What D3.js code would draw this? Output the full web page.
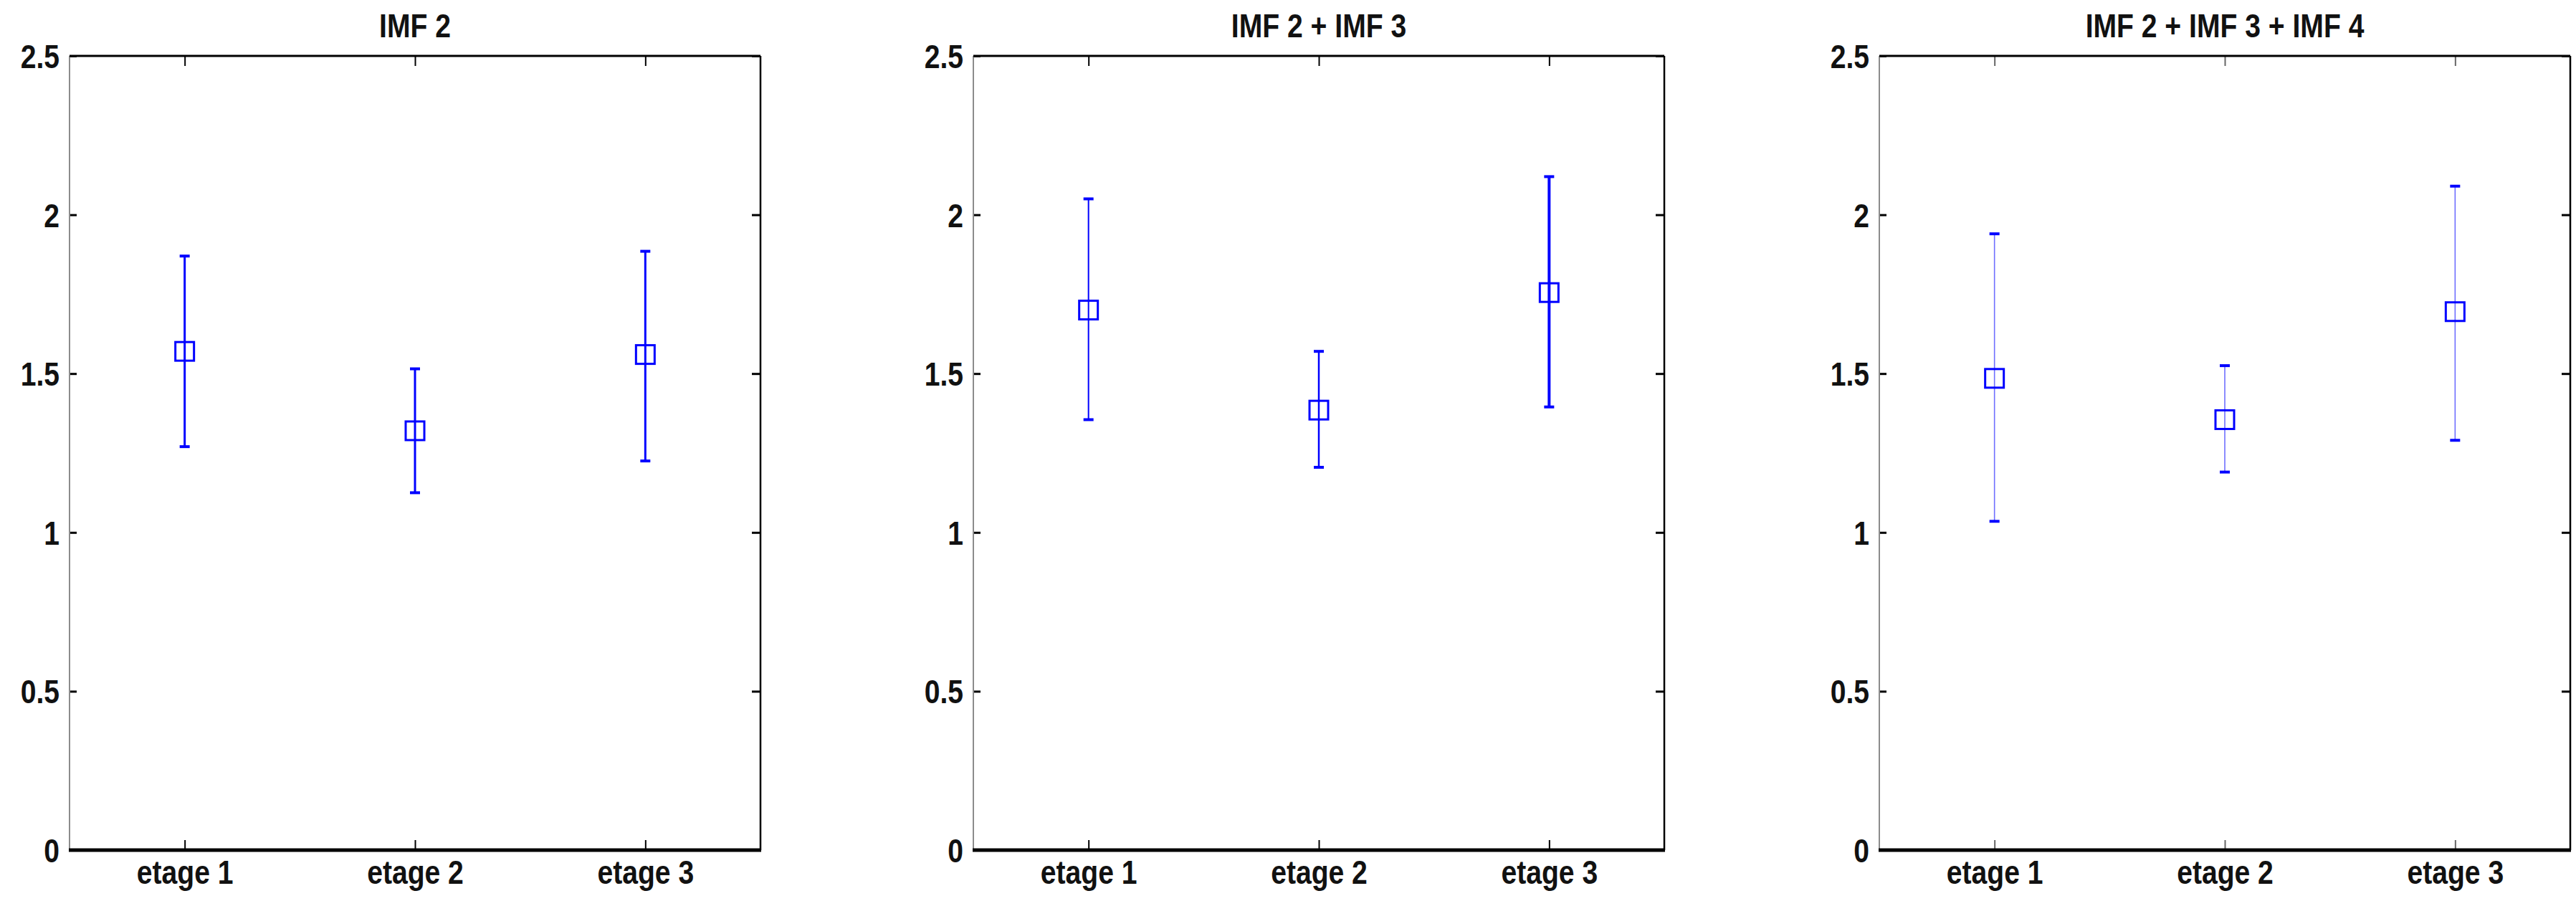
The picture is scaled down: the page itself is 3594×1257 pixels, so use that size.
<!DOCTYPE html>
<html>
<head>
<meta charset="utf-8">
<script src="https://cdn.jsdelivr.net/npm/d3@7"></script>
<style>
  html, body { margin: 0; padding: 0; background: #fff; }
  text { font-family: "Liberation Sans", Arial, sans-serif; font-weight: bold; fill: #111; }
</style>
</head>
<body>
<svg id="chart" width="3594" height="1257"></svg>
<script>
// data
var categories = ["etage 1", "etage 2", "etage 3"];
var titles = ["IMF 2", "IMF 2 + IMF 3", "IMF 2 + IMF 3 + IMF 4"];
var yTicks = [0, 0.5, 1, 1.5, 2, 2.5];

var imf2Mean  = [1.57, 1.32, 1.56];
var imf2Upper = [1.87, 1.515, 1.885];
var imf2Lower = [1.27, 1.125, 1.225];

var imf23Mean  = [1.70, 1.385, 1.755];
var imf23Upper = [2.05, 1.57, 2.12];
var imf23Lower = [1.355, 1.205, 1.395];

var imf234Mean  = [1.485, 1.355, 1.695];
var imf234Upper = [1.94, 1.525, 2.09];
var imf234Lower = [1.035, 1.19, 1.29];

var panels = [
    {title: titles[0], mean: imf2Mean, upper: imf2Upper, lower: imf2Lower},
    {title: titles[1], mean: imf23Mean, upper: imf23Upper, lower: imf23Lower},
    {title: titles[2], mean: imf234Mean, upper: imf234Upper, lower: imf234Lower}
];

// look of each panel's bars
var lineWidths = [[3, 3, 3], [2, 2.5, 4], [1.6, 1.6, 1.6]];
var lineColors = ["#0000ff", "#0000ff", "#6f6fff"];

var panelLeft = [97, 1358, 2622],
    plotTop = 78, plotBottom = 1186,
    plotW = 964,
    plotH = plotBottom - plotTop,
    squeeze = 0.85,
    fontSize = 46;

var svg = d3.select("#chart");

var x = d3.scalePoint()
    .domain(categories)
    .range([0, plotW])
    .padding(0.5);

var y = d3.scaleLinear()
    .domain([0, 2.5])
    .range([plotH, 0]);

panels.forEach(function (p, pi) {
    var g = svg.append("g")
        .attr("transform", "translate(" + panelLeft[pi] + "," + plotTop + ")");

    // title
    g.append("text")
        .attr("transform", "translate(" + (plotW / 2) + ",-26) scale(" + squeeze + ",1)")
        .attr("text-anchor", "middle")
        .style("font-size", fontSize + "px")
        .text(p.title);

    // left axis with labels
    var yAxis = g.append("g")
        .call(d3.axisLeft(y).tickValues(yTicks).tickSizeInner(-10).tickSizeOuter(0).tickPadding(0)
            .tickFormat(d3.format("")));
    yAxis.select(".domain").remove();
    yAxis.selectAll(".tick line").attr("stroke", "#000").attr("stroke-width", 3);
    yAxis.selectAll(".tick text")
        .attr("x", null)
        .attr("dy", "0.36em")
        .attr("transform", "translate(-14,0) scale(" + squeeze + ",1)")
        .style("font-size", fontSize + "px")
        .attr("fill", "#111");

    // right axis, ticks only
    var yRight = g.append("g")
        .attr("transform", "translate(" + plotW + ",0)")
        .call(d3.axisRight(y).tickValues(yTicks).tickSizeInner(-12).tickSizeOuter(0).tickFormat(""));
    yRight.select(".domain").remove();
    yRight.selectAll(".tick line").attr("stroke", "#000").attr("stroke-width", 3);

    // top axis, ticks only
    var xTop = g.append("g")
        .call(d3.axisTop(x).tickSizeInner(-14).tickSizeOuter(0).tickFormat(""));
    xTop.select(".domain").remove();
    xTop.selectAll(".tick line").attr("stroke", pi == 2 ? "#666" : "#000").attr("stroke-width", 2);

    // bottom axis with category labels
    var xAxis = g.append("g")
        .attr("transform", "translate(0," + plotH + ")")
        .call(d3.axisBottom(x).tickSizeInner(-14).tickSizeOuter(0).tickPadding(0));
    xAxis.select(".domain").remove();
    xAxis.selectAll(".tick line").attr("stroke", pi == 2 ? "#666" : "#000").attr("stroke-width", 2);
    xAxis.selectAll(".tick text")
        .attr("y", null)
        .attr("dy", null)
        .attr("transform", "translate(0,47) scale(" + squeeze + ",1)")
        .style("font-size", fontSize + "px")
        .attr("fill", "#111");

    // box around the plot
    g.append("line").attr("x1", 0).attr("x2", 0).attr("y1", 0).attr("y2", plotH)
        .attr("stroke", "#8c8c8c").attr("stroke-width", 2);
    g.append("line").attr("x1", 0).attr("x2", plotW).attr("y1", 0).attr("y2", 0)
        .attr("stroke", "#000").attr("stroke-width", 3);
    g.append("line").attr("x1", plotW).attr("x2", plotW).attr("y1", 0).attr("y2", plotH)
        .attr("stroke", "#000").attr("stroke-width", 2.5);
    g.append("line").attr("x1", -1).attr("x2", plotW + 1).attr("y1", plotH).attr("y2", plotH)
        .attr("stroke", "#000").attr("stroke-width", 5);

    var rows = categories.map(function (c, i) {
        return {cat: c, mean: p.mean[i], upper: p.upper[i], lower: p.lower[i], i: i};
    });

    var bars = g.selectAll(".errbar")
        .data(rows)
        .enter().append("g")
        .attr("class", "errbar")
        .attr("transform", function (d) { return "translate(" + x(d.cat) + ",0)"; });

    bars.append("line")
        .attr("y1", function (d) { return y(d.lower); })
        .attr("y2", function (d) { return y(d.upper); })
        .attr("stroke", lineColors[pi])
        .attr("stroke-width", function (d) { return lineWidths[pi][d.i]; });

    ["upper", "lower"].forEach(function (k) {
        bars.append("line")
            .attr("x1", -7).attr("x2", 7)
            .attr("y1", function (d) { return y(d[k]); })
            .attr("y2", function (d) { return y(d[k]); })
            .attr("stroke", "#0000ff")
            .attr("stroke-width", 4);
    });

    bars.append("rect")
        .attr("x", -13)
        .attr("y", function (d) { return y(d.mean) - 13; })
        .attr("width", 26)
        .attr("height", 26)
        .attr("fill", "none")
        .attr("stroke", "#0000ff")
        .attr("stroke-width", 3);
});
</script>
</body>
</html>
